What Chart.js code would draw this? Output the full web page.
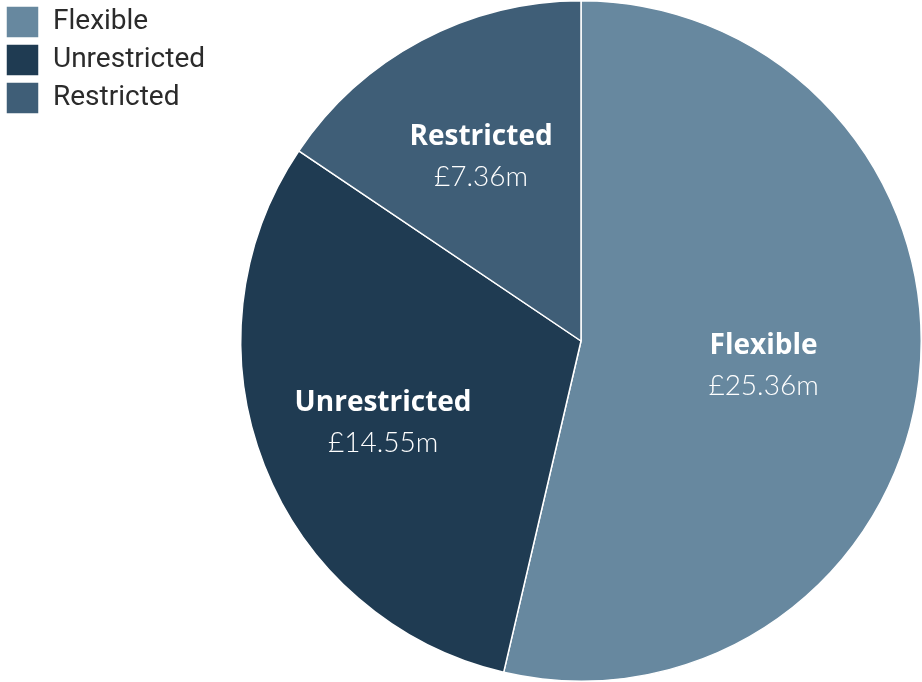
<!DOCTYPE html>
<html>
<head>
<meta charset="utf-8">
<script src="https://cdn.jsdelivr.net/npm/chart.js@4.4.0/dist/chart.umd.min.js"></script>
<style>
  html, body { margin: 0; padding: 0; background: #fff; }
  #wrap { width: 922px; height: 682px; position: relative; }
</style>
</head>
<body>
<div id="wrap"><canvas id="pieChart"></canvas></div>
<script>
'use strict';

// Funds split by type (£ millions)
var fundLabels = ['Flexible', 'Unrestricted', 'Restricted'];
var fundValues = [25.36, 14.55, 7.36];
var fundColours = ['#67889f', '#1f3b52', '#3f5e77'];

// Writes the name and amount inside each slice
var sliceLabels = {
  id: 'sliceLabels',
  afterDatasetsDraw: function (chart, args, opts) {
    var ctx = chart.ctx;
    var meta = chart.getDatasetMeta(0);
    ctx.save();
    ctx.fillStyle = '#ffffff';
    ctx.textAlign = 'center';
    ctx.textBaseline = 'middle';
    meta.data.forEach(function (arc, i) {
      var p = arc.getProps(['x', 'y', 'startAngle', 'endAngle', 'outerRadius'], true);
      var mid = (p.startAngle + p.endAngle) / 2;
      var r = p.outerRadius * opts.radius[i];
      var x = p.x + Math.cos(mid) * r;
      var y = p.y + Math.sin(mid) * r;
      ctx.font = 'bold 28px "Open Sans", Lato, sans-serif';
      ctx.fillText(fundLabels[i], x, y - 16);
      ctx.font = '300 28px Lato, "Open Sans", sans-serif';
      ctx.fillText('£' + fundValues[i].toFixed(2) + 'm', x, y + 24);
    });
    ctx.restore();
  }
};

// Keeps the legend column a fixed width so the pie sits to its right
var legendWidth = {
  id: 'legendWidth',
  beforeInit: function (chart) {
    var fit = chart.legend.fit;
    chart.legend.fit = function () {
      fit.call(this);
      this.width = 240;
    };
  }
};

var pieChart = new Chart(document.getElementById('pieChart').getContext('2d'), {
  type: 'pie',
  data: {
    labels: fundLabels,
    datasets: [{
      data: fundValues,
      backgroundColor: fundColours,
      borderColor: '#ffffff',
      borderWidth: 1.5
    }]
  },
  options: {
    responsive: true,
    maintainAspectRatio: false,
    animation: false,
    layout: { padding: 0 },
    plugins: {
      legend: {
        position: 'left',
        align: 'start',
        labels: {
          boxWidth: 33,
          boxHeight: 32,
          padding: 6,
          color: '#2b2b2b',
          font: { family: 'Roboto', size: 28 }
        }
      },
      tooltip: { enabled: false },
      sliceLabels: { radius: [0.54, 0.625, 0.625] }
    }
  },
  plugins: [legendWidth, sliceLabels]
});
</script>
</body>
</html>
